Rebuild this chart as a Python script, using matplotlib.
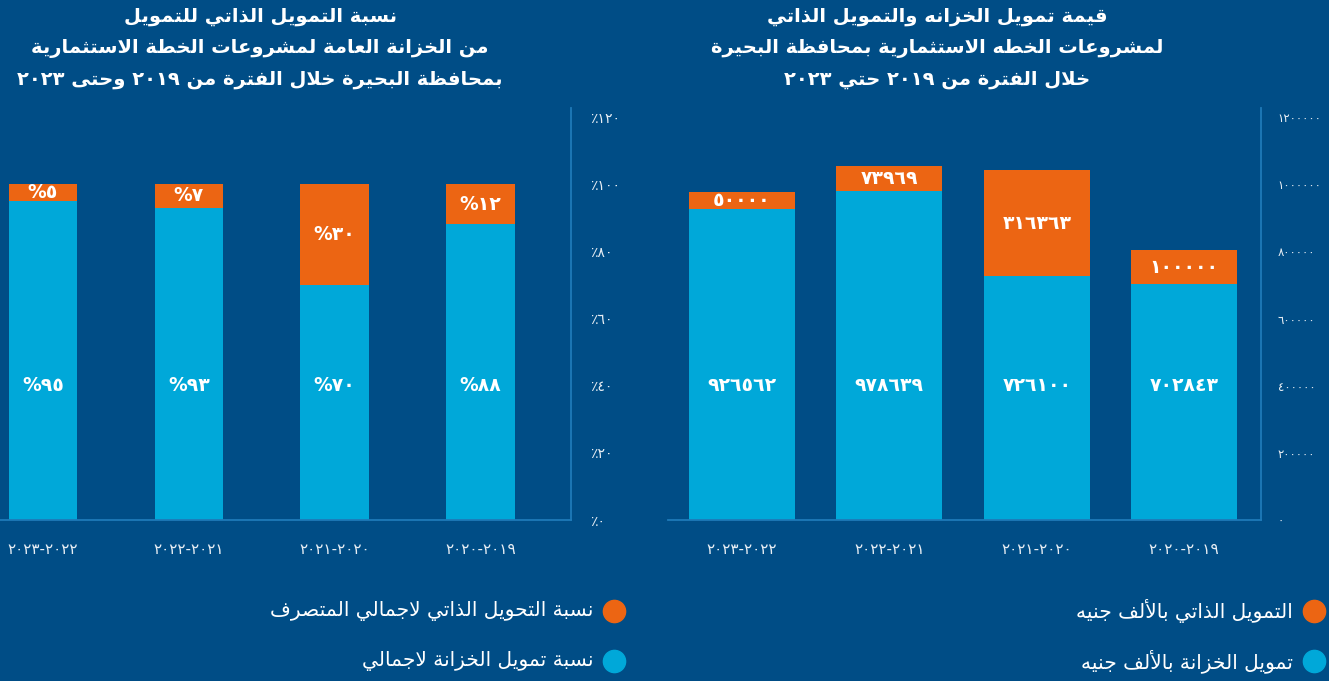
import numpy as np
import matplotlib
matplotlib.use('Agg')
import matplotlib.pyplot as plt
from matplotlib.lines import Line2D

# colours
BG = '#004d86'
BLUE = '#00a8d9'
ORANGE = '#ec6513'
SPINE = '#1f7ab8'

# data (ordered 2019-2020 first, drawn right to left)
periods = ['٢٠٢٠-٢٠١٩', '٢٠٢١-٢٠٢٠', '٢٠٢٢-٢٠٢١', '٢٠٢٣-٢٠٢٢']
treasury = [702843, 726100, 978639, 926562]
self_fund = [100000, 316363, 73969, 50000]
treasury_pct = [88, 70, 93, 95]
self_pct = [12, 30, 7, 5]

value_ticks = [0, 200000, 400000, 600000, 800000, 1000000, 1200000]
pct_ticks = [0, 20, 40, 60, 80, 100, 120]

title_right = ['قيمة تمويل الخزانه والتمويل الذاتي',
               'لمشروعات الخطه الاستثمارية بمحافظة البحيرة',
               'خلال الفترة من ٢٠١٩ حتي ٢٠٢٣']
title_left = ['نسبة التمويل الذاتي للتمويل',
              'من الخزانة العامة لمشروعات الخطة الاستثمارية',
              'بمحافظة البحيرة خلال الفترة من ٢٠١٩ وحتى ٢٠٢٣']
legend_right = ['التمويل الذاتي بالألف جنيه', 'تمويل الخزانة بالألف جنيه']
legend_left = ['نسبة التحويل الذاتي لاجمالي المتصرف', 'نسبة تمويل الخزانة لاجمالي']

# --- minimal arabic shaping (matplotlib has no bidi / joining) ---
FORMS = {'ء': (0xFE80, 1), 'آ': (0xFE81, 2), 'أ': (0xFE83, 2), 'ؤ': (0xFE85, 2),
         'إ': (0xFE87, 2), 'ئ': (0xFE89, 4), 'ا': (0xFE8D, 2), 'ب': (0xFE8F, 4),
         'ة': (0xFE93, 2), 'ت': (0xFE95, 4), 'ث': (0xFE99, 4), 'ج': (0xFE9D, 4),
         'ح': (0xFEA1, 4), 'خ': (0xFEA5, 4), 'د': (0xFEA9, 2), 'ذ': (0xFEAB, 2),
         'ر': (0xFEAD, 2), 'ز': (0xFEAF, 2), 'س': (0xFEB1, 4), 'ش': (0xFEB5, 4),
         'ص': (0xFEB9, 4), 'ض': (0xFEBD, 4), 'ط': (0xFEC1, 4), 'ظ': (0xFEC5, 4),
         'ع': (0xFEC9, 4), 'غ': (0xFECD, 4), 'ف': (0xFED1, 4), 'ق': (0xFED5, 4),
         'ك': (0xFED9, 4), 'ل': (0xFEDD, 4), 'م': (0xFEE1, 4), 'ن': (0xFEE5, 4),
         'ه': (0xFEE9, 4), 'و': (0xFEED, 2), 'ى': (0xFEEF, 2), 'ي': (0xFEF1, 4)}
LAM_ALEF = {'آ': 0xFEF5, 'أ': 0xFEF7, 'إ': 0xFEF9, 'ا': 0xFEFB}
DIGITS = set('0123456789٠١٢٣٤٥٦٧٨٩')


def shape(text):
    toks = []
    i = 0
    while i < len(text):
        c = text[i]
        if c == 'ل' and i + 1 < len(text) and text[i + 1] in LAM_ALEF:
            toks.append((LAM_ALEF[text[i + 1]], 2))
            i += 2
            continue
        toks.append(FORMS.get(c, c))
        i += 1
    out = []
    for k, t in enumerate(toks):
        if isinstance(t, str):
            out.append(t)
            continue
        cp, n = t
        prev = k > 0 and not isinstance(toks[k - 1], str) and toks[k - 1][1] == 4
        nxt = n == 4 and k + 1 < len(toks) and not isinstance(toks[k + 1], str) and toks[k + 1][1] >= 2
        if prev and nxt:
            cp += 3
        elif prev:
            cp += 1
        elif nxt:
            cp += 2
        out.append(chr(cp))
    out = out[::-1]
    # digit runs stay left to right
    res, run = [], []
    for ch in out + [None]:
        if ch is not None and ch in DIGITS:
            run.append(ch)
            continue
        res.extend(run[::-1])
        run = []
        if ch is not None:
            res.append(ch)
    return ''.join(res)


def ar_num(v):
    return str(v).translate(str.maketrans('0123456789', '٠١٢٣٤٥٦٧٨٩'))


plt.rcParams['font.family'] = ['DejaVu Sans']

W, H = 1329, 681
fig = plt.figure(figsize=(W / 100, H / 100), dpi=100, facecolor=BG)


def px_axes(left, right, top, bottom):
    return fig.add_axes([left / W, 1 - bottom / H, (right - left) / W, (bottom - top) / H])


def style_axes(ax, ticks, labels, ymax, xlim, ysize, ypad):
    ax.set_facecolor(BG)
    for s in ['top', 'left']:
        ax.spines[s].set_visible(False)
    for s in ['right', 'bottom']:
        ax.spines[s].set_color(SPINE)
        ax.spines[s].set_linewidth(1.3)
    ax.yaxis.tick_right()
    ax.set_yticks(ticks)
    ax.set_yticklabels(labels)
    ax.set_ylim(0, ymax)
    ax.set_xticks(np.arange(len(periods)))
    ax.set_xticklabels(periods)
    ax.set_xlim(*xlim)
    ax.tick_params(axis='y', length=0, pad=ypad, labelcolor='#e8eef4', labelsize=ysize)
    ax.tick_params(axis='x', length=0, pad=16, labelcolor='#e8eef4', labelsize=11)


x = np.arange(len(periods))

# right panel: values
ax_r = px_axes(668, 1261, 108, 520)
ax_r.bar(x, treasury, width=0.72, color=BLUE)
ax_r.bar(x, self_fund, bottom=treasury, width=0.72, color=ORANGE)
style_axes(ax_r, value_ticks, [ar_num(v) for v in value_ticks], 1.2268e6, (3.5, -0.52), 8.5, 12)
for xi, t, s in zip(x, treasury, self_fund):
    ax_r.text(xi, 400000, ar_num(t), ha='center', va='center', color='white',
              fontsize=13.5, fontweight='bold')
    ax_r.text(xi, t + s / 2, ar_num(s), ha='center', va='center', color='white',
              fontsize=13.5, fontweight='bold')

# left panel: shares
ax_l = px_axes(-30, 571, 108, 520)
ax_l.bar(x, treasury_pct, width=0.47, color=BLUE)
ax_l.bar(x, self_pct, bottom=treasury_pct, width=0.47, color=ORANGE)
style_axes(ax_l, pct_ticks, ['٪' + ar_num(v) for v in pct_ticks], 122.68, (3.5, -0.62), 10, 14)
for xi, t, s in zip(x, treasury_pct, self_pct):
    ax_l.text(xi, 40, '%' + ar_num(t), ha='center', va='center', color='white',
              fontsize=13.5, fontweight='bold')
    ax_l.text(xi, t + s / 2, '%' + ar_num(s), ha='center', va='center', color='white',
              fontsize=13.5, fontweight='bold')

# titles
for cx, lines in [(937, title_right), (260, title_left)]:
    fig.text(cx / W, 1 - 48 / H, '\n'.join(shape(l) for l in lines), ha='center',
             va='center', color='white', fontsize=14, fontweight='bold', linespacing=1.78)

# legends
for cx, labels in [(1314, legend_right), (614, legend_left)]:
    for cy, lab, col in zip([611, 661], labels, [ORANGE, BLUE]):
        fig.add_artist(Line2D([cx / W], [1 - cy / H], marker='o', markersize=16,
                              color=col, transform=fig.transFigure))
        fig.text((cx - 21) / W, 1 - cy / H, shape(lab), ha='right', va='center',
                 color='white', fontsize=14.5)

fig.savefig('out.png', dpi=100, facecolor=BG)
